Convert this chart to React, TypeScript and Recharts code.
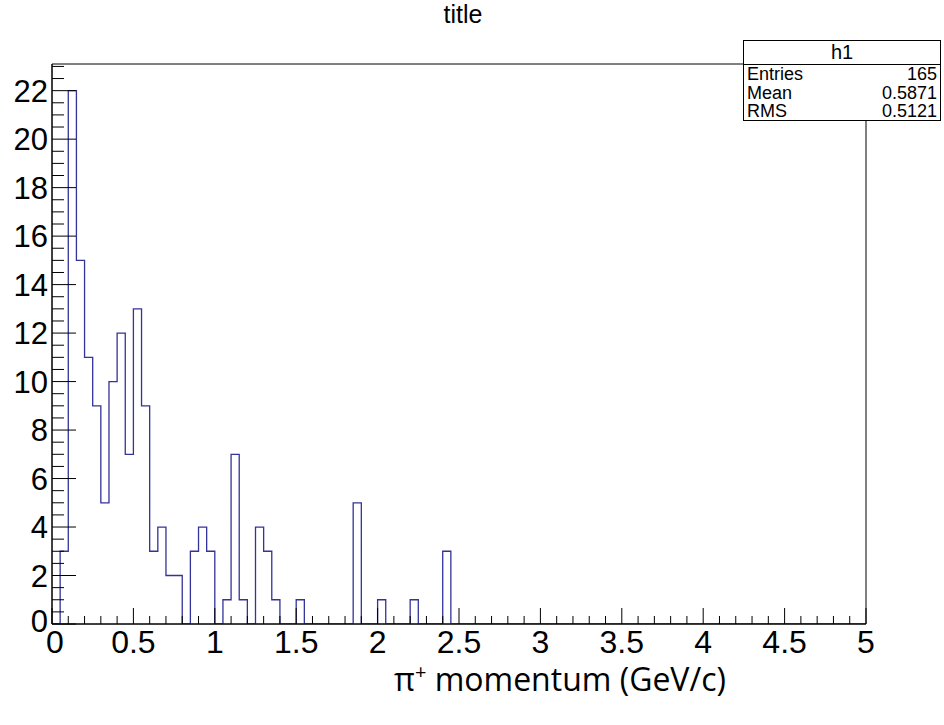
import React from 'react';
import { ComposedChart, Line, XAxis, YAxis, ReferenceArea } from 'recharts';

// histogram h1: 100 bins of 0.05 GeV/c between 0 and 5
const BIN_WIDTH = 0.05;
const binCounts = [
  0, 3, 22, 15, 11, 9, 5, 10, 12, 7,
  13, 9, 3, 4, 2, 2, 0, 3, 4, 3,
  0, 1, 7, 1, 0, 4, 3, 1, 0, 0,
  1, 0, 0, 0, 0, 0, 0, 5, 0, 0,
  1, 0, 0, 0, 1, 0, 0, 0, 3, 0,
  0, 0, 0, 0, 0, 0, 0, 0, 0, 0,
  0, 0, 0, 0, 0, 0, 0, 0, 0, 0,
  0, 0, 0, 0, 0, 0, 0, 0, 0, 0,
  0, 0, 0, 0, 0, 0, 0, 0, 0, 0,
  0, 0, 0, 0, 0, 0, 0, 0, 0, 0,
];

const xMajorTicks = [0, 0.5, 1, 1.5, 2, 2.5, 3, 3.5, 4, 4.5, 5];
const yMajorTicks = [0, 2, 4, 6, 8, 10, 12, 14, 16, 18, 20, 22];
const Y_MAX = 23.1;

const statRows = [
  { label: 'Entries', value: '165' },
  { label: 'Mean', value: '0.5871' },
  { label: 'RMS', value: '0.5121' },
];

const FONT = '"Liberation Sans", Arial, Helvetica, sans-serif';
const LINE_COLOR = '#333399';

// step outline points at the lower bin edges, closed at x = 5
const stepData = [
  ...binCounts.map((n, i) => ({ x: +(i * BIN_WIDTH).toFixed(2), n })),
  { x: 5, n: binCounts[binCounts.length - 1] },
];

const xTicks = Array.from({ length: 51 }, (_, i) => +(i * 0.1).toFixed(1));
const yTicks = Array.from({ length: 47 }, (_, i) => i * 0.5);

const XTick = ({ x, y, payload }: any) => {
  const v = payload.value;
  const major = xMajorTicks.includes(v);
  return (
    <g>
      <line x1={x} x2={x} y1={y} y2={y - (major ? 16 : 8)} stroke="#000" strokeWidth={1} />
      {major && (
        <text x={v === 0 ? x + 3 : x} y={y + 29} textAnchor="middle" fontSize={32} fontFamily={FONT} fill="#000">
          {String(v)}
        </text>
      )}
    </g>
  );
};

const YTick = ({ x, y, payload }: any) => {
  const v = payload.value;
  const major = yMajorTicks.includes(v);
  return (
    <g>
      <line x1={x} x2={x + (major ? 24 : 12)} y1={y} y2={y} stroke="#000" strokeWidth={1} />
      {major && (
        <text x={x - 4} y={v === 0 ? y + 8 : y + 11} textAnchor="end" fontSize={31} fontFamily={FONT} fill="#000">
          {String(v)}
        </text>
      )}
    </g>
  );
};

export default function App() {
  return (
    <div style={{ position: 'absolute', left: 0, top: 0, width: 944, height: 725, background: '#fff', overflow: 'hidden' }}>
      <ComposedChart
        width={944}
        height={725}
        data={stepData}
        margin={{ top: 64, right: 78, left: 0, bottom: 0 }}
      >
        <ReferenceArea x1={0} x2={5} y1={0} y2={Y_MAX} fill="none" fillOpacity={0} stroke="#000" strokeWidth={1} />
        <XAxis
          dataKey="x"
          type="number"
          domain={[0, 5]}
          ticks={xTicks}
          interval={0}
          height={101}
          tickSize={0}
          tickMargin={0}
          tickLine={false}
          axisLine={{ stroke: '#000' }}
          tick={<XTick />}
          allowDataOverflow
        />
        <YAxis
          type="number"
          domain={[0, Y_MAX]}
          ticks={yTicks}
          interval={0}
          width={52}
          tickSize={0}
          tickMargin={0}
          tickLine={false}
          axisLine={{ stroke: '#000' }}
          tick={<YTick />}
          allowDataOverflow
        />
        <Line
          dataKey="n"
          type="stepAfter"
          stroke={LINE_COLOR}
          strokeWidth={1.3}
          dot={false}
          activeDot={false}
          isAnimationActive={false}
        />
      </ComposedChart>

      <div style={{ position: 'absolute', left: 363, top: 0, width: 200, textAlign: 'center', fontFamily: FONT, fontSize: 25, color: '#000' }}>
        title
      </div>

      <div
        style={{
          position: 'absolute', left: 743, top: 40, width: 198, height: 81,
          boxSizing: 'border-box', border: '1px solid #000', background: '#fff',
          fontFamily: FONT, fontSize: 18, color: '#000',
        }}
      >
        <div style={{ height: 23, lineHeight: '23px', textAlign: 'center', borderBottom: '1px solid #000', fontSize: 20 }}>h1</div>
        {statRows.map((r) => (
          <div key={r.label} style={{ display: 'flex', justifyContent: 'space-between', height: 18.7, lineHeight: '18.7px', padding: '0 3px 0 3px' }}>
            <span>{r.label}</span>
            <span>{r.value}</span>
          </div>
        ))}
      </div>

      <div style={{ position: 'absolute', left: 260, top: 657, width: 600, textAlign: 'center', fontFamily: '"Open Sans", "Noto Sans", sans-serif', fontSize: 32, color: '#000' }}>
        π<sup style={{ fontSize: 20 }}>+</sup> momentum (GeV/c)
      </div>
    </div>
  );
}
